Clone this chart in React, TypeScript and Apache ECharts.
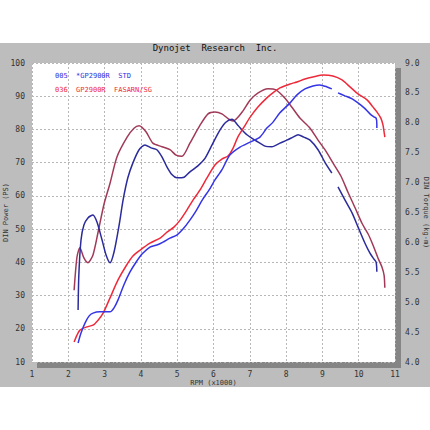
import React, { useEffect, useRef } from "react";
import * as echarts from "echarts";

const xTicks = [1, 2, 3, 4, 5, 6, 7, 8, 9, 10, 11];
const powerTicks = [10, 20, 30, 40, 50, 60, 70, 80, 90, 100];
const torqueTicks = [4.0, 4.5, 5.0, 5.5, 6.0, 6.5, 7.0, 7.5, 8.0, 8.5, 9.0];

const legendBlue = "005  *GP2900R  STD";
const legendRed = "036  GP2900R  FASARN/SG";

// Torque, run 036 (red) — [rpm x1000, kg-m]
const torqueRed: number[][] = [
  [2.16, 5.2], [2.24, 5.76], [2.32, 5.91], [2.43, 5.74], [2.54, 5.66], [2.68, 5.79],
  [2.82, 6.17], [2.98, 6.63], [3.15, 6.99], [3.34, 7.43], [3.62, 7.76], [3.81, 7.91],
  [3.95, 7.95], [4.14, 7.85], [4.33, 7.66], [4.58, 7.6], [4.8, 7.55], [4.97, 7.46],
  [5.13, 7.44], [5.35, 7.66], [5.63, 7.96], [5.85, 8.15], [6.04, 8.18], [6.23, 8.15],
  [6.4, 8.07], [6.54, 8.03], [6.79, 8.18], [7.01, 8.38], [7.23, 8.5], [7.5, 8.57],
  [7.72, 8.55], [7.97, 8.41], [8.16, 8.26], [8.38, 8.08], [8.66, 7.91], [8.88, 7.71],
  [9.07, 7.55], [9.29, 7.33], [9.51, 7.11], [9.71, 6.83], [9.9, 6.58], [10.09, 6.32],
  [10.26, 6.14], [10.39, 5.96], [10.53, 5.74], [10.64, 5.59], [10.7, 5.45], [10.72, 5.24],
];

// Torque, run 005 (blue) — [rpm x1000, kg-m]; null marks the gap in the trace
const torqueBlue: (number[] | null)[] = [
  [2.27, 4.87], [2.29, 5.45], [2.35, 6.04], [2.43, 6.29], [2.54, 6.41], [2.68, 6.46],
  [2.79, 6.34], [2.93, 6.04], [3.04, 5.79], [3.15, 5.66], [3.26, 5.84], [3.4, 6.29],
  [3.51, 6.71], [3.64, 7.08], [3.78, 7.33], [3.95, 7.55], [4.11, 7.63], [4.28, 7.58],
  [4.44, 7.55], [4.58, 7.43], [4.72, 7.26], [4.86, 7.13], [4.99, 7.08], [5.19, 7.09],
  [5.35, 7.18], [5.57, 7.28], [5.77, 7.41], [5.96, 7.63], [6.18, 7.88], [6.34, 8.01],
  [6.51, 8.06], [6.67, 7.96], [6.92, 7.8], [7.17, 7.7], [7.42, 7.61], [7.61, 7.6],
  [7.83, 7.66], [8.02, 7.71], [8.19, 7.76], [8.33, 7.8], [8.49, 7.76], [8.66, 7.71],
  [8.88, 7.55], [9.07, 7.34], [9.26, 7.16], null, [9.43, 6.93], [9.62, 6.71],
  [9.82, 6.49], [9.98, 6.26], [10.17, 5.99], [10.31, 5.82], [10.42, 5.72], [10.48, 5.67],
  [10.5, 5.51],
];

// Power, run 036 (red) — [rpm x1000, PS]
const powerRed: number[][] = [
  [2.16, 16.0], [2.24, 18.1], [2.32, 19.6], [2.49, 20.5], [2.68, 21.1], [2.82, 22.6],
  [2.96, 24.7], [3.15, 29.3], [3.37, 34.7], [3.59, 38.9], [3.78, 41.9], [3.98, 43.7],
  [4.25, 45.8], [4.53, 47.3], [4.72, 49.1], [4.91, 50.6], [5.08, 52.7], [5.27, 55.8],
  [5.44, 58.8], [5.63, 61.8], [5.82, 65.4], [6.04, 69.3], [6.23, 71.1], [6.4, 72.0],
  [6.54, 74.4], [6.67, 77.7], [6.84, 80.7], [7.01, 83.7], [7.23, 86.8], [7.47, 89.5],
  [7.67, 91.3], [7.83, 92.5], [8.11, 93.7], [8.3, 94.3], [8.52, 95.2], [8.74, 95.8],
  [9.02, 96.4], [9.29, 96.1], [9.54, 94.9], [9.76, 92.8], [9.98, 90.7], [10.23, 88.9],
  [10.39, 86.8], [10.5, 85.3], [10.61, 83.4], [10.67, 81.3], [10.7, 79.2], [10.72, 77.7],
];

// Power, run 005 (blue) — [rpm x1000, PS]; null marks the gap in the trace
const powerBlue: (number[] | null)[] = [
  [2.27, 15.7], [2.35, 18.7], [2.46, 21.7], [2.57, 23.8], [2.68, 24.7], [2.87, 25.1],
  [3.07, 25.1], [3.15, 25.1], [3.26, 26.3], [3.37, 28.7], [3.53, 33.2], [3.7, 37.1],
  [3.87, 40.1], [4.03, 42.5], [4.25, 44.6], [4.44, 45.2], [4.61, 46.1], [4.8, 47.3],
  [4.99, 48.2], [5.16, 50.0], [5.35, 52.7], [5.52, 55.5], [5.71, 59.1], [5.88, 61.8],
  [6.04, 64.8], [6.23, 67.8], [6.45, 72.3], [6.73, 74.7], [7.01, 76.2], [7.28, 77.7],
  [7.47, 80.4], [7.64, 82.2], [7.83, 85.0], [8.11, 88.0], [8.3, 90.4], [8.52, 92.2],
  [8.74, 93.1], [8.93, 93.4], [9.13, 92.8], [9.26, 92.2], null, [9.43, 91.0],
  [9.62, 90.1], [9.82, 89.2], [9.98, 88.0], [10.15, 86.5], [10.31, 84.7], [10.42, 83.8],
  [10.48, 83.4], [10.5, 81.6], [10.5, 80.4],
];

const GL = 32, GT = 63, GR = 395, GB = 362;

export default function App() {
  const ref = useRef<HTMLDivElement>(null);
  useEffect(() => {
    if (!ref.current) return;
    const chart = echarts.init(ref.current, null, { renderer: "svg" });
    const mono = "DejaVu Sans Mono";
    const labelStyle = { fontFamily: mono, fontSize: 8, color: "#333" };
    const line = (name: string, data: any[], color: string, yIdx: number) => ({
      name,
      type: "line",
      yAxisIndex: yIdx,
      data,
      showSymbol: false,
      smooth: 0.25,
      connectNulls: false,
      lineStyle: { color, width: 1.5 },
      itemStyle: { color },
      z: 5,
    });
    chart.setOption({
      animation: false,
      backgroundColor: "#ffffff",
      graphic: [
        { type: "rect", z: -100, shape: { x: 0, y: 43, width: 430, height: 344 }, style: { fill: "#bdbdbd" }, silent: true },
        { type: "rect", z: -99, shape: { x: GL + 5, y: GT + 5, width: GR - GL + 1, height: GB - GT + 1 }, style: { fill: "#858585" }, silent: true },
        { type: "rect", z: -98, shape: { x: GL, y: GT, width: GR - GL, height: GB - GT }, style: { fill: "#ffffff" }, silent: true },
        { type: "text", z: 10, left: "center", top: 43, style: { text: "Dynojet  Research  Inc.", font: `9px ${mono}`, fill: "#111" } },
        { type: "text", z: 10, x: 55, y: 72, style: { text: legendBlue, font: `7px ${mono}`, fill: "#3030e0" } },
        { type: "text", z: 10, x: 55, y: 86, style: { text: legendRed, font: `7px ${mono}`, fill: "#ee2a3a" } },
      ],
      grid: { left: GL, top: GT, right: 430 - GR, bottom: 430 - GB, containLabel: false, outerBoundsMode: "none" },
      xAxis: {
        type: "value",
        min: xTicks[0],
        max: xTicks[xTicks.length - 1],
        interval: 1,
        name: "RPM (x1000)",
        nameLocation: "middle",
        nameGap: 17,
        nameMoveOverlap: false,
        nameTextStyle: { fontFamily: mono, fontSize: 7, color: "#333" },
        axisLine: { show: false },
        axisTick: { show: false },
        minorTick: { show: true, splitNumber: 5, length: 3, lineStyle: { color: "#888" } },
        axisLabel: { ...labelStyle, margin: 8 },
        splitLine: { show: true, lineStyle: { color: "#b8b8b8", type: [2, 2], width: 1 } },
      },
      yAxis: [
        {
          type: "value",
          min: powerTicks[0],
          max: powerTicks[powerTicks.length - 1],
          interval: 10,
          name: "DIN Power (PS)",
          nameLocation: "middle",
          nameGap: 23,
          nameMoveOverlap: false,
          nameTextStyle: { fontFamily: mono, fontSize: 7, color: "#333" },
          axisLine: { show: false },
          axisTick: { show: false },
          axisLabel: { ...labelStyle, margin: 7 },
          splitLine: { show: true, lineStyle: { color: "#b8b8b8", type: [2, 2], width: 1 } },
        },
        {
          type: "value",
          min: torqueTicks[0],
          max: torqueTicks[torqueTicks.length - 1],
          interval: 0.5,
          position: "right",
          name: "DIN Torque (kg-m)",
          nameLocation: "middle",
          nameGap: 27,
          nameRotate: -90,
          nameMoveOverlap: false,
          nameTextStyle: { fontFamily: mono, fontSize: 7, color: "#333" },
          axisLine: { show: false },
          axisTick: { show: false },
          minorTick: { show: true, splitNumber: 5, length: 3, lineStyle: { color: "#888" } },
          axisLabel: { ...labelStyle, margin: 10, formatter: (v: number) => v.toFixed(1) },
          splitLine: { show: false },
        },
      ],
      series: [
        line("Torque 036", torqueRed, "#a03a58", 1),
        line("Torque 005", torqueBlue, "#2b2b9c", 1),
        line("Power 036", powerRed, "#ee2a3a", 0),
        line("Power 005", powerBlue, "#3535e6", 0),
      ],
    });
    return () => chart.dispose();
  }, []);
  return <div ref={ref} style={{ width: 430, height: 430, position: "absolute", left: 0, top: 0 }} />;
}
